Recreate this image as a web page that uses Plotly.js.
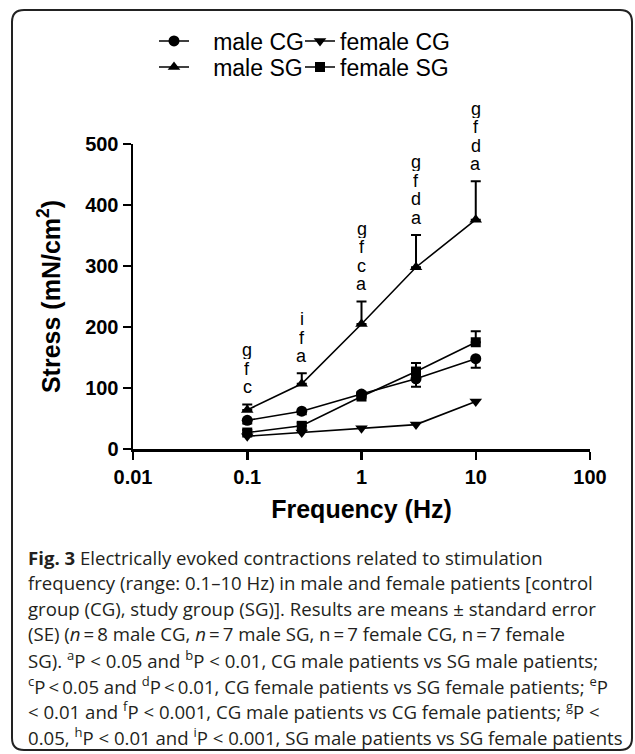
<!DOCTYPE html>
<html>
<head>
<meta charset="utf-8">
<script src="https://cdn.plot.ly/plotly-3.0.1.min.js"></script>
<style>
  html, body { margin: 0; padding: 0; background: #fff; }
  #chart { width: 635px; height: 754px; }
</style>
</head>
<body>
<div id="chart"></div>
<script>
// ---- data ----
const frequency = [0.1, 0.3, 1, 3, 10];
const maleCG = [47, 62, 90, 115, 148];
const maleCGErrMinus = [5, 5, 6, 13, 15];
const femaleCG = [21, 27, 34, 40, 78];
const maleSG = [64, 107, 205, 298, 376];
const maleSGErrPlus = [9, 17, 37, 53, 63];
const femaleSG = [27, 38, 86, 127, 175];
const femaleSGErrPlus = [4, 5, 7, 14, 18];
const sigLetters = ["gfc", "ifa", "gfca", "gfda", "gfda"]; // top to bottom
const xTickVals = [0.01, 0.1, 1, 10, 100];
const xTickText = ["0.01", "0.1", "1", "10", "100"];
const yTickVals = [0, 100, 200, 300, 400, 500];
const captionLines = [
  "<b>Fig. 3</b> Electrically evoked contractions related to stimulation",
  "frequency (range: 0.1–10 Hz) in male and female patients [control",
  "group (CG), study group (SG)]. Results are means ± standard error",
  "(SE) (<i>n</i>\u2009=\u20098 male CG, <i>n</i>\u2009=\u20097 male SG, n\u2009=\u20097 female CG, n\u2009=\u20097 female",
  "SG). <sup>a</sup>P &lt; 0.05 and <sup>b</sup>P &lt; 0.01, CG male patients vs SG male patients;",
  "<sup>c</sup>P\u2009&lt;\u20090.05 and <sup>d</sup>P\u2009&lt;\u20090.01, CG female patients vs SG female patients; <sup>e</sup>P",
  "&lt; 0.01 and <sup>f</sup>P &lt; 0.001, CG male patients vs CG female patients; <sup>g</sup>P &lt;",
  "0.05, <sup>h</sup>P &lt; 0.01 and <sup>i</sup>P &lt; 0.001, SG male patients vs SG female patients"
];

// ---- layout geometry (pixels) ----
const W = 635, H = 754;
const M = {l: 133, r: 45, t: 144, b: 305};
const plotW = W - M.l - M.r, plotH = H - M.t - M.b;
const px = x => (x - M.l) / plotW;
const py = y => (H - M.b - y) / plotH;

const FONT = "Liberation Sans, Arial, sans-serif";
const lineStyle = {color: "black", width: 1.6};

function errBar(plus, minus) {
  return {type: "data", symmetric: false, array: plus, arrayminus: minus,
          color: "black", thickness: 2, width: 5};
}
const zeros = frequency.map(() => 0);
const gap = "\u00a0\u00a0\u00a0";

const traces = [
  {x: frequency, y: maleCG, name: gap + "male CG", mode: "lines+markers", legend: "legend",
   line: lineStyle, marker: {symbol: "circle", size: 11, color: "black"},
   error_y: errBar(zeros, maleCGErrMinus)},
  {x: frequency, y: femaleCG, name: "female CG", mode: "lines+markers", legend: "legend2",
   line: lineStyle, marker: {symbol: "triangle-down", size: 11, color: "black"}},
  {x: frequency, y: maleSG, name: gap + "male SG", mode: "lines+markers", legend: "legend3",
   line: lineStyle, marker: {symbol: "triangle-up", size: 11, color: "black"},
   error_y: errBar(maleSGErrPlus, zeros)},
  {x: frequency, y: femaleSG, name: "female SG", mode: "lines+markers", legend: "legend4",
   line: lineStyle, marker: {symbol: "square", size: 10, color: "black"},
   error_y: errBar(femaleSGErrPlus, zeros)}
];

const annotations = [];
frequency.forEach((f, i) => {
  const letters = sigLetters[i].split("");
  const top = maleSG[i] + maleSGErrPlus[i];
  const n = letters.length;
  letters.forEach((ch, k) => {
    const fromBottom = n - 1 - k;
    annotations.push({
      x: Math.log10(f), y: top, xref: "x", yref: "y",
      text: ch, showarrow: false, xanchor: "center", yanchor: "middle",
      height: 18, yshift: 17 + 18.5 * fromBottom,
      font: {family: FONT, size: 18, color: "black"}
    });
  });
});
captionLines.forEach((t, k) => {
  annotations.push({
    x: px(26), y: py(557 + 25.6 * k), xref: "paper", yref: "paper",
    text: t, showarrow: false, xanchor: "left", yanchor: "middle", align: "left",
    font: {family: "Open Sans, Lato, sans-serif", size: 18.6, color: "#231f20"}
  });
});

// rounded frame
const bx0 = 12, by0 = 10, bx1 = 632, by1 = 750, rr = 12;
const framePath =
  `M ${px(bx0 + rr)},${py(by0)} L ${px(bx1 - rr)},${py(by0)} ` +
  `Q ${px(bx1)},${py(by0)} ${px(bx1)},${py(by0 + rr)} ` +
  `L ${px(bx1)},${py(by1 - rr)} Q ${px(bx1)},${py(by1)} ${px(bx1 - rr)},${py(by1)} ` +
  `L ${px(bx0 + rr)},${py(by1)} Q ${px(bx0)},${py(by1)} ${px(bx0)},${py(by1 - rr)} ` +
  `L ${px(bx0)},${py(by0 + rr)} Q ${px(bx0)},${py(by0)} ${px(bx0 + rr)},${py(by0)} Z`;

const legendCommon = {
  orientation: "h", xanchor: "left", yanchor: "middle",
  font: {family: FONT, size: 23, color: "black"},
  bgcolor: "rgba(0,0,0,0)", borderwidth: 0, traceorder: "normal"
};
const col1 = 154, col2 = 300, row1 = 41, row2 = 67;

const layout = {
  width: W, height: H,
  margin: M,
  paper_bgcolor: "white", plot_bgcolor: "white",
  showlegend: true,
  legend: Object.assign({}, legendCommon, {x: px(col1), y: py(row1)}),
  legend2: Object.assign({}, legendCommon, {x: px(col2), y: py(row1)}),
  legend3: Object.assign({}, legendCommon, {x: px(col1), y: py(row2)}),
  legend4: Object.assign({}, legendCommon, {x: px(col2), y: py(row2)}),
  xaxis: {
    type: "log", range: [-2, 2],
    tickvals: xTickVals, ticktext: xTickText,
    showline: true, linewidth: 2.5, linecolor: "black",
    ticks: "outside", ticklen: 8, tickwidth: 2.5, tickcolor: "black",
    showgrid: false, zeroline: false,
    tickfont: {family: FONT, size: 20, color: "black", weight: "bold"},
    title: {text: "Frequency (Hz)", standoff: 14,
            font: {family: FONT, size: 25, color: "black", weight: "bold"}}
  },
  yaxis: {
    range: [0, 500], tickvals: yTickVals,
    showline: true, linewidth: 2.5, linecolor: "black",
    ticks: "outside", ticklen: 8, tickwidth: 2.5, tickcolor: "black",
    showgrid: false, zeroline: false,
    tickfont: {family: FONT, size: 20, color: "black", weight: "bold"},
    title: {text: "Stress (mN/cm<sup>2</sup>)", standoff: 18,
            font: {family: FONT, size: 25, color: "black", weight: "bold"}}
  },
  annotations: annotations,
  shapes: [{type: "path", xref: "paper", yref: "paper", path: framePath,
            line: {color: "#222", width: 2}, layer: "above"}]
};

Plotly.newPlot("chart", traces, layout, {displayModeBar: false, staticPlot: true});
</script>
</body>
</html>
